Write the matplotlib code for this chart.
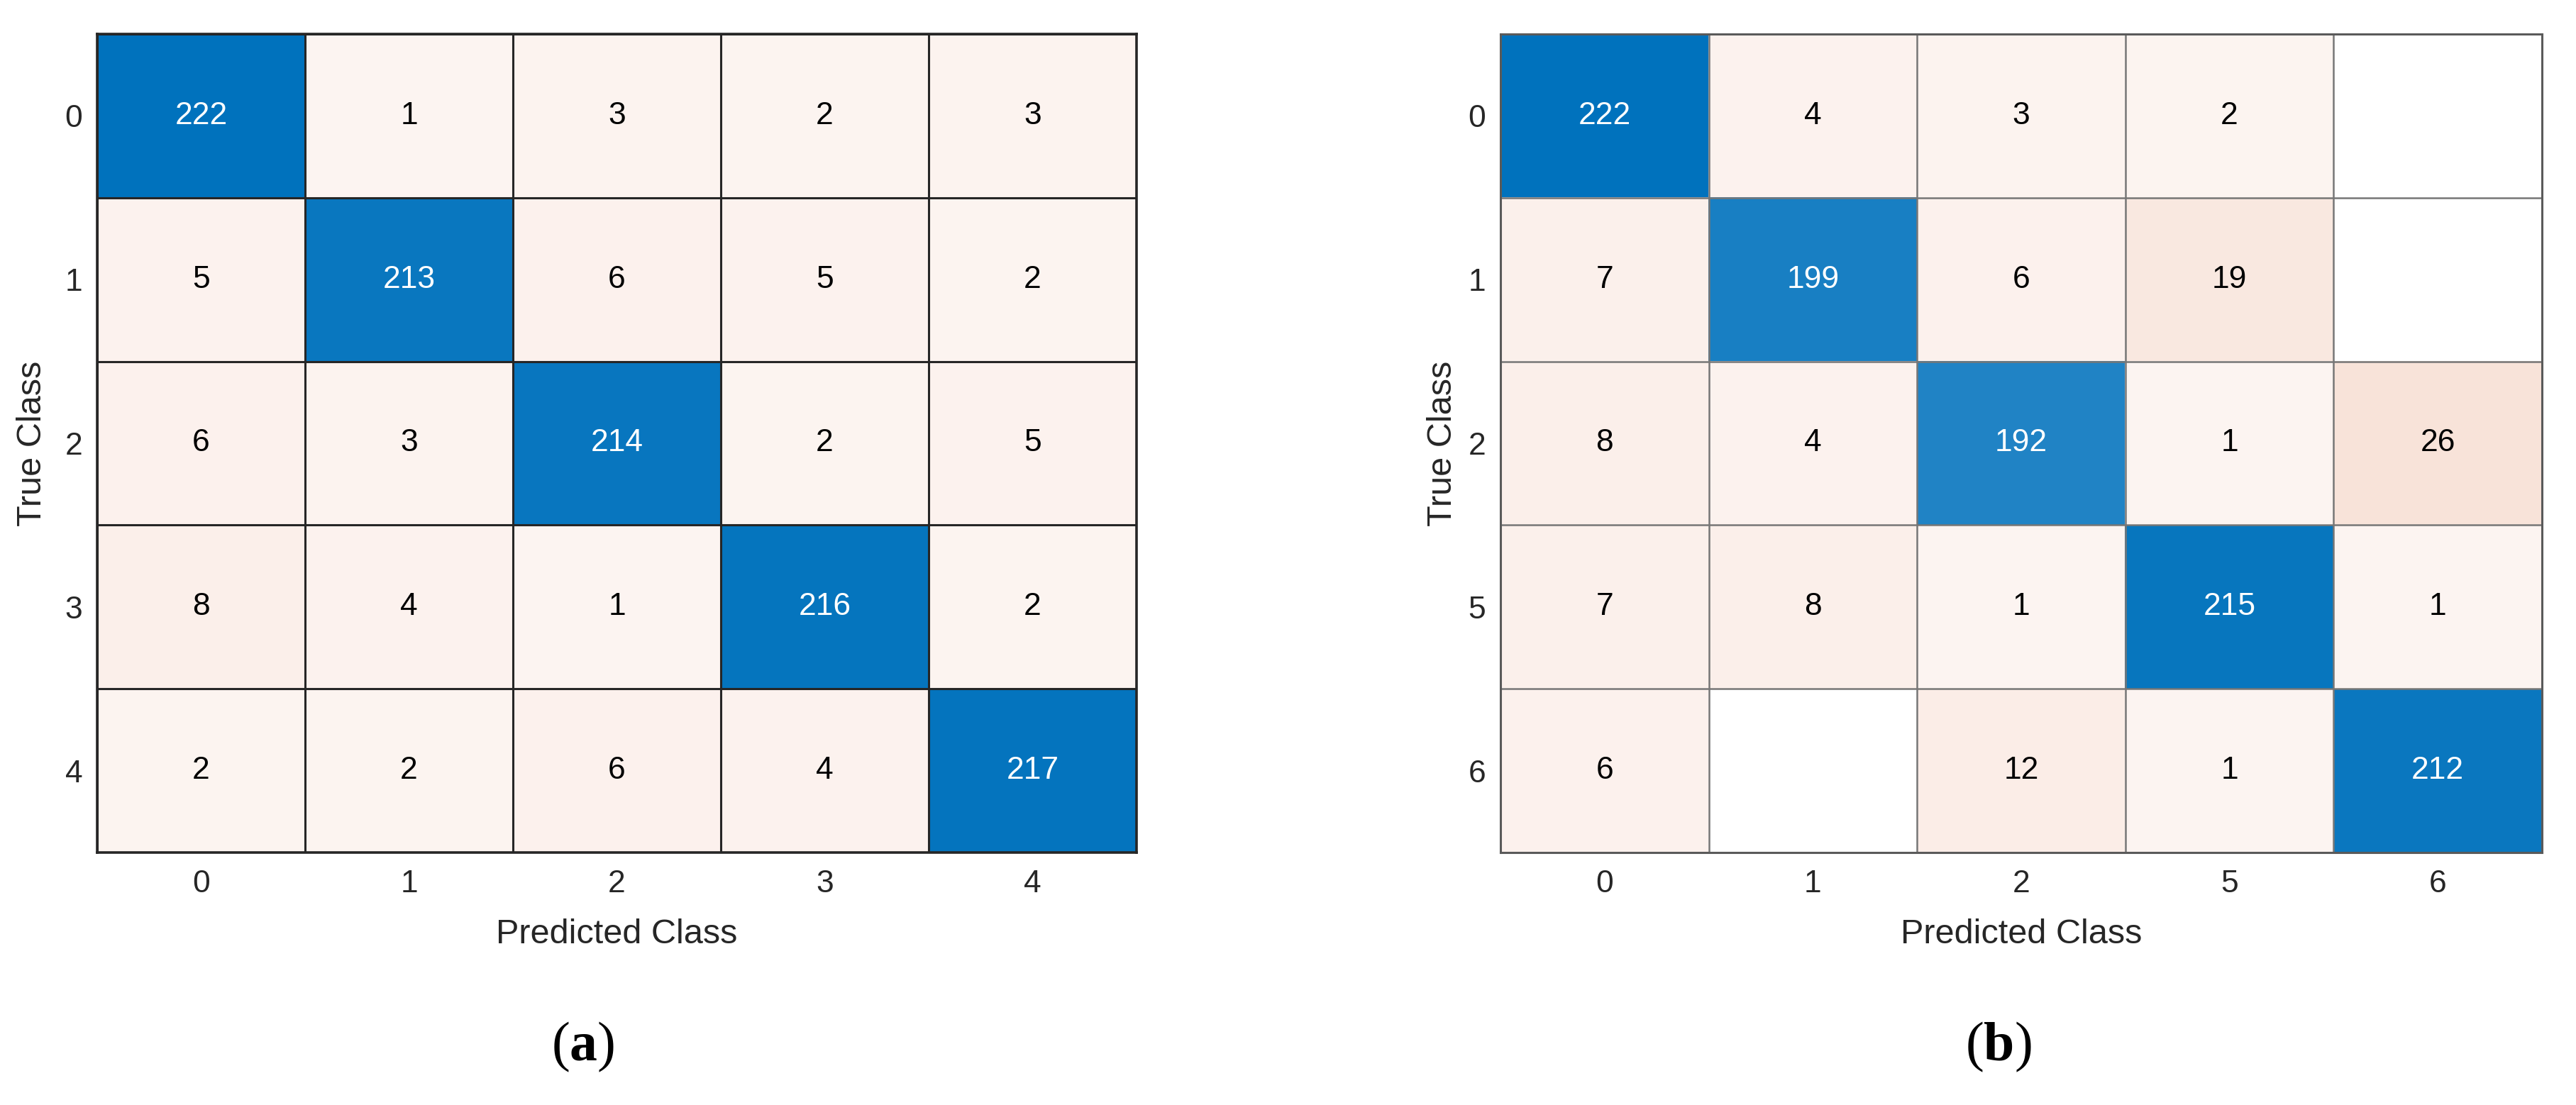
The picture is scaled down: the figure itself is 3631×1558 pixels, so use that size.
import numpy as np
import matplotlib
matplotlib.use("Agg")
import matplotlib.pyplot as plt
from matplotlib.colors import LinearSegmentedColormap

# ---- data ----
labels_a = ["0", "1", "2", "3", "4"]
cm_a = [
    [222, 1, 3, 2, 3],
    [5, 213, 6, 5, 2],
    [6, 3, 214, 2, 5],
    [8, 4, 1, 216, 2],
    [2, 2, 6, 4, 217],
]
labels_b = ["0", "1", "2", "5", "6"]
cm_b = [
    [222, 4, 3, 2, 0],
    [7, 199, 6, 19, 0],
    [8, 4, 192, 1, 26],
    [7, 8, 1, 215, 1],
    [6, 0, 12, 1, 212],
]
panel_tags = ["a", "b"]

plt.rcParams["font.family"] = ["Liberation Sans", "DejaVu Sans"]
plt.rcParams["mathtext.fontset"] = "custom"
plt.rcParams["mathtext.rm"] = "Liberation Serif"
plt.rcParams["mathtext.bf"] = "Liberation Serif:bold"

blue = np.array([0, 114, 189]) / 255.0
orange = np.array([217, 83, 25]) / 255.0
white = np.array([1.0, 1.0, 1.0])
t0 = 0.055
cmap_diag = LinearSegmentedColormap.from_list("diag", [white * (1 - t0) + blue * t0, blue])
cmap_off = LinearSegmentedColormap.from_list("off", [white * (1 - t0) + orange * t0, orange])
cmap_diag.set_bad((1, 1, 1, 0))
cmap_off.set_bad((1, 1, 1, 0))

W, H = 3631, 1558
fig = plt.figure(figsize=(W / 100, H / 100), dpi=100)

axes_px = [(137, 48, 1602, 1202), (2115, 48, 1583 + 2000, 1202)]
styles = [
    dict(inner="#262626", border="#262626", lw=2.2),
    dict(inner="#767676", border="#5a5a5a", lw=1.8),
]
tag_x = [822, 2817]
text_gray = "#262626"

for k, (cm, labs) in enumerate([(cm_a, labels_a), (cm_b, labels_b)]):
    x0, y0, x1, y1 = axes_px[k]
    ax = fig.add_axes([x0 / W, 1 - y1 / H, (x1 - x0) / W, (y1 - y0) / H])
    M = np.array(cm, dtype=float)
    n = M.shape[0]
    vmax = M.max()
    eye = np.eye(n, dtype=bool)
    diag = np.where(eye & (M > 0), M, np.nan)
    off = np.where(~eye & (M > 0), M, np.nan)
    ax.imshow(np.ma.masked_invalid(diag), cmap=cmap_diag, vmin=0, vmax=vmax,
              aspect="auto", interpolation="nearest")
    ax.imshow(np.ma.masked_invalid(off), cmap=cmap_off, vmin=0, vmax=vmax,
              aspect="auto", interpolation="nearest")
    ax.set_xlim(-0.5, n - 0.5)
    ax.set_ylim(n - 0.5, -0.5)
    for i in range(n):
        for j in range(n):
            v = int(M[i, j])
            if v == 0:
                continue
            frac = v / vmax
            col = "white" if (i == j and frac > 0.5) else "black"
            ax.text(j, i, str(v), ha="center", va="center", fontsize=32, color=col)
    st = styles[k]
    ax.set_xticks(np.arange(n))
    ax.set_yticks(np.arange(n))
    ax.set_xticklabels(labs)
    ax.set_yticklabels(labs)
    ax.set_xticks(np.arange(-0.5, n, 1), minor=True)
    ax.set_yticks(np.arange(-0.5, n, 1), minor=True)
    ax.grid(which="minor", color=st["inner"], linewidth=st["lw"])
    ax.grid(which="major", visible=False)
    ax.tick_params(which="both", length=0)
    ax.tick_params(axis="x", pad=17, labelsize=32, labelcolor=text_gray)
    ax.tick_params(axis="y", pad=15, labelsize=32, labelcolor=text_gray)
    for sp in ax.spines.values():
        sp.set_color(st["border"])
        sp.set_linewidth(st["lw"] + 0.4)
    ax.set_xlabel("Predicted Class", fontsize=35, color=text_gray)
    ax.set_ylabel("True Class", fontsize=35, color=text_gray)
    ax.xaxis.set_label_coords(0.5, (1202 - 1318) / (y1 - y0))
    ax.xaxis.label.set_va("center")
    ax.yaxis.set_label_coords((46 - x0) / (x1 - x0) if k == 0 else (2033 - x0) / (x1 - x0), 0.5)
    ax.yaxis.label.set_va("center")
    fig.text(tag_x[k] / W, 1 - 1476 / H, r"$(\mathbf{%s})$" % panel_tags[k],
             ha="center", va="center", fontsize=56, color="black")

fig.savefig("out.png", dpi=100, facecolor="white")
